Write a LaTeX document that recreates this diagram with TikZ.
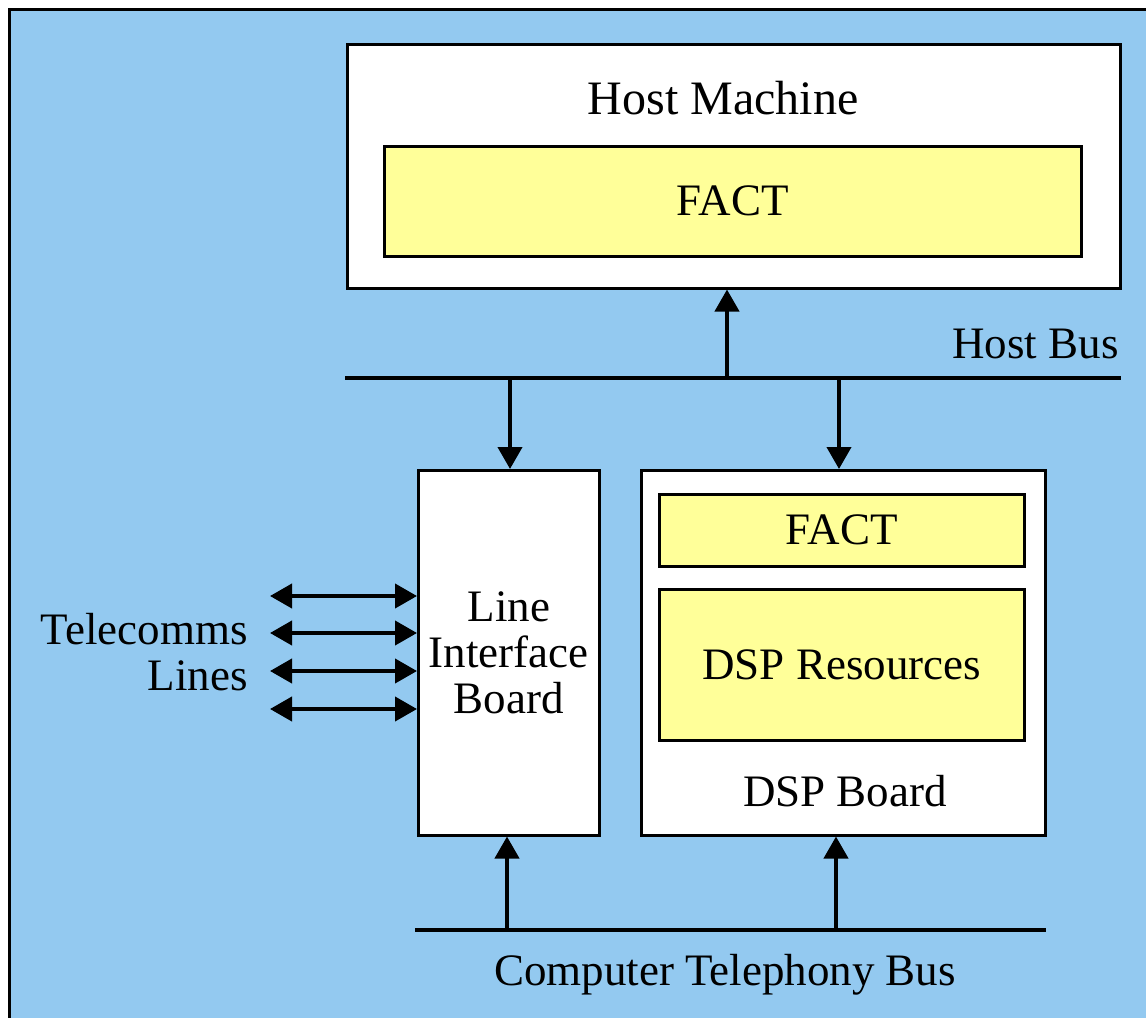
\documentclass[tikz,border=0pt]{standalone}
\usepackage{fontspec}
\setmainfont{Liberation Serif}
\usetikzlibrary{arrows.meta,positioning,calc}
\definecolor{skyback}{RGB}{147,201,240}
\definecolor{paleyellow}{RGB}{255,255,153}

\begin{document}
\begin{tikzpicture}[x=1pt, y=-1pt, thick]
  % Styles
  \tikzstyle{board} = [rectangle, draw, line width=2.5pt, fill=white, anchor=north west, inner sep=0pt, align=center, font=\fontsize{45}{46}\selectfont]
  \tikzstyle{module} = [rectangle, draw, line width=2.5pt, fill=paleyellow, anchor=north west, inner sep=0pt, font=\fontsize{45}{46}\selectfont]
  \tikzstyle{label} = [inner sep=0pt, font=\fontsize{45}{46}\selectfont]
  \tikzstyle{bus} = [draw, line width=4.5pt]
  \tikzstyle{arrow} = [draw, line width=4pt, -{Triangle[length=22pt,width=24pt]}]
  \tikzstyle{twoway} = [draw, line width=4pt, {Triangle[length=22pt,width=24pt]}-{Triangle[length=22pt,width=24pt]}]

  % Background
  \useasboundingbox (0,0) rectangle (1146,1018);
  \fill[skyback] (9,9) rectangle (1146,1018);
  \draw[line width=3pt] (1146,9) -- (9,9) -- (9,1018);

  % Nodes
  \node[board, minimum width=773, minimum height=244] (host) at (346,43) {};
  \node[label, font=\fontsize{48}{50}\selectfont] (hostname) at (723,98) {Host Machine};
  \node[module, minimum width=697, minimum height=110] (hostfact) at (383,145) {FACT};

  \node[board, minimum width=181, minimum height=365] (lib) at (417,469) {Line\\Interface\\Board};
  \node[board, minimum width=404, minimum height=365] (dsp) at (640,469) {};
  \node[module, minimum width=365, minimum height=72] (dspfact) at (658,493) {FACT};
  \node[module, minimum width=365, minimum height=151] (dspres) at (658,588) {DSP Resources};
  \node[label] (dspname) at (845,791) {DSP Board};

  \node[label, align=right, anchor=east] (telecomms) at (248,652) {Telecomms\\Lines};

  % Buses
  \coordinate (hostbusL) at (345,378);
  \coordinate (hostbusR) at (1121,378);
  \path[bus] (hostbusL) -- (hostbusR);
  \node[label, anchor=base east] (hostbusname) at (1119,358) {Host Bus};

  \coordinate (ctbusL) at (415,930);
  \coordinate (ctbusR) at (1046,930);
  \path[bus] (ctbusL) -- (ctbusR);
  \node[label] (ctbusname) at (725,975) {Computer Telephony Bus};

  % Edges
  \coordinate (tohost) at (727,378);
  \coordinate (tolib) at (510,378);
  \coordinate (todsp) at (839,378);
  \path[arrow] (tohost) -- (tohost |- host.south);
  \path[arrow] (tolib) -- (tolib |- lib.north);
  \path[arrow] (todsp) -- (todsp |- dsp.north);

  \coordinate (libup) at (507,930);
  \coordinate (dspup) at (836,930);
  \path[arrow] (libup) -- (libup |- lib.south);
  \path[arrow] (dspup) -- (dspup |- dsp.south);

  \foreach \y [count=\i] in {596,633,671,709}
  {
    \coordinate (line\i) at (270,\y);
    \path[twoway] (line\i) -- (line\i -| lib.west);
  }

\end{tikzpicture}
\end{document}
